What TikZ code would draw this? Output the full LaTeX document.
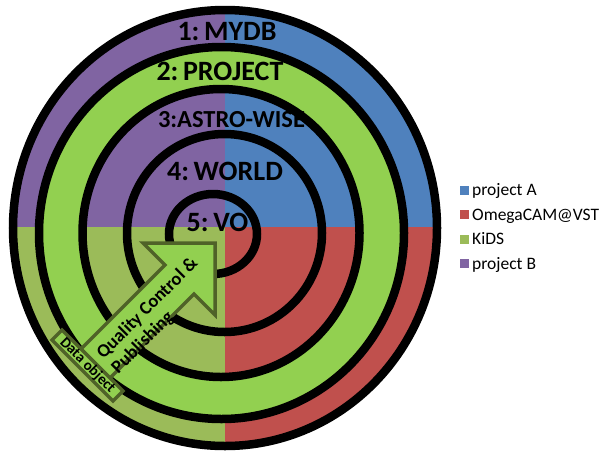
\documentclass[tikz,border=0pt]{standalone}
\usepackage{fontspec}
\setmainfont{Carlito}
\usepackage{tikz}

\definecolor{projA}{HTML}{4F81BD}
\definecolor{omega}{HTML}{C0504D}
\definecolor{kids}{HTML}{9BBB59}
\definecolor{projB}{HTML}{8064A2}
\definecolor{brightgreen}{HTML}{92D050}
\definecolor{edgeolive}{HTML}{4F6228}

\begin{document}
\begin{tikzpicture}[x=1pt, y=-1pt,
    ring/.style={draw=black, line width=8.5pt},
    layer/.style={font=\bfseries\fontsize{28}{30}\selectfont, inner sep=0pt, anchor=base},
    keybox/.style={fill=#1, minimum size=9pt, inner sep=0pt},
    keytext/.style={font=\fontsize{17.5}{20}\selectfont, inner sep=0pt, anchor=base west},
    flow/.style={fill=brightgreen, draw=edgeolive, line width=3.5pt, line join=miter}]

    \useasboundingbox (0,0) rectangle (601,450);

    % coloured quarters
    \begin{scope}
        \clip (225,228) ellipse [x radius=212pt, y radius=218pt];
        \fill[projB] (0,0) rectangle (225,227);
        \fill[projA] (225,0) rectangle (450,227);
        \fill[kids] (0,227) rectangle (225,450);
        \fill[omega] (225,227) rectangle (450,450);
    \end{scope}

    % green band between rings 3 and 4
    \fill[brightgreen, even odd rule] (221.5,233) ellipse [x radius=182.5pt, y radius=186pt]
        (221,233) ellipse [x radius=138.5pt, y radius=144pt];

    % black rings
    \foreach \cx/\cy/\rx/\ry in {225/228/212/218, 221.5/233/182.5/186, 221/233/138.5/144,
                                 224.5/233/97.5/99, 213/234/44/40}
        \draw[ring] (\cx,\cy) ellipse [x radius=\rx pt, y radius=\ry pt];

    % layer names
    \node[layer] (mydb) at (227,40) {1:\,MYDB};
    \node[layer] (project) at (220,80) {2:\,PROJECT};
    \node[layer, font=\bfseries\fontsize{24.5}{26}\selectfont] (astro) at (231.5,127) {3:ASTRO-WISE};
    \node[layer] (world) at (225,180) {4:\,WORLD};
    \node[layer] (vo) at (217.5,231) {5:\,VO};

    % the big arrow
    \coordinate (tip) at (215,243);
    \coordinate (barbA) at (143,243);
    \coordinate (barbB) at (215,315);
    \coordinate (notchA) at (165,265);
    \coordinate (notchB) at (194,294);
    \coordinate (tailA) at (81,349);
    \coordinate (tailB) at (110,378);
    \draw[flow] (tailA) -- (notchA) -- (barbA) -- (tip) -- (barbB) -- (notchB) -- (tailB) -- cycle;
    \node[rotate=45, align=left, inner sep=0pt, font=\bfseries\fontsize{18.5}{21}\selectfont] (qc) at (155,316)
        {Quality Control \&\\Publishing};

    % data object box
    \draw[flow] (62,330) -- (123,391) -- (113,401) -- (52,340) -- cycle;
    \node[rotate=-45, inner sep=0pt, font=\bfseries\fontsize{15}{17}\selectfont] (dobj) at (87.5,365.5) {Data object};

    % legend
    \node[keybox=projA] (keyA) at (464,190) {};
    \node[keytext] (txtA) at (472,195.6) {project A};
    \node[keybox=omega] (keyO) at (464,214.5) {};
    \node[keytext] (txtO) at (472,220.1) {OmegaCAM@VST};
    \node[keybox=kids] (keyK) at (464,239) {};
    \node[keytext] (txtK) at (472,244.6) {KiDS};
    \node[keybox=projB] (keyB) at (464,263.5) {};
    \node[keytext] (txtB) at (472,269.1) {project B};
\end{tikzpicture}
\end{document}
